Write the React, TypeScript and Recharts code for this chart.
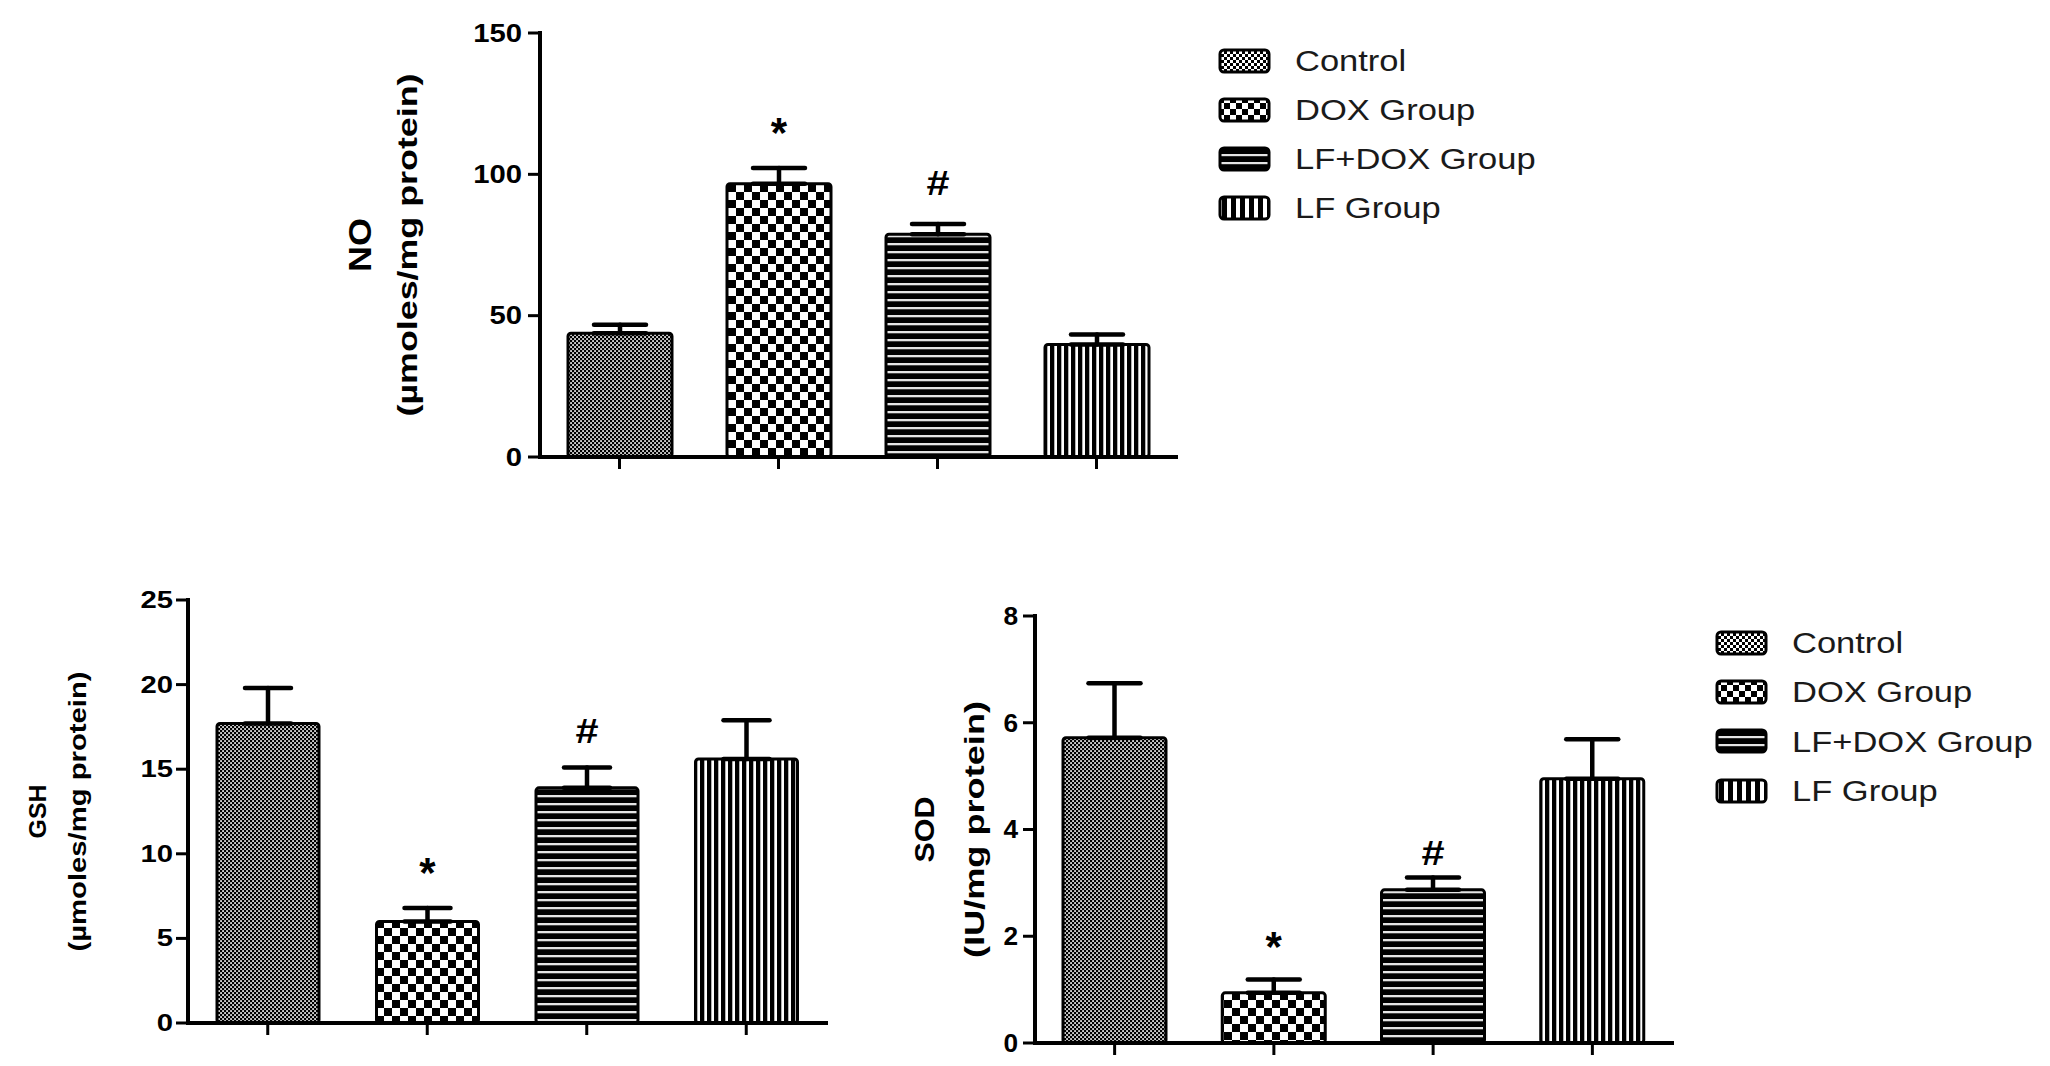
import React from 'react';
import { BarChart, Bar, XAxis, YAxis, ErrorBar, Cell, LabelList, Legend } from 'recharts';

const FONT = '"Liberation Sans", Arial, Helvetica, sans-serif';

// Treatment groups, in plotting order
const groups = ['Control', 'DOX Group', 'LF+DOX Group', 'LF Group'];
const fillKeys = ['control', 'dox', 'lfdox', 'lf'];

// Nitric oxide (µmoles/mg protein): mean and SEM
const noMean = [43.8, 96.7, 78.8, 39.8];
const noSem = [3.0, 5.5, 3.6, 3.5];
const noSig = ['', '*', '#', ''];
const noTicks = [0, 50, 100, 150];

// Reduced glutathione (µmoles/mg protein)
const gshMean = [17.7, 6.0, 13.9, 15.6];
const gshSem = [2.1, 0.8, 1.2, 2.3];
const gshSig = ['', '*', '#', ''];
const gshTicks = [0, 5, 10, 15, 20, 25];

// Superoxide dismutase (IU/mg protein)
const sodMean = [5.72, 0.94, 2.87, 4.95];
const sodSem = [1.02, 0.25, 0.23, 0.74];
const sodSig = ['', '*', '#', ''];
const sodTicks = [0, 2, 4, 6, 8];

type Row = { group: string; mean: number; sem: [number, number]; sig: string; fill: string };

// upper-only error bars: [lower, upper]
const buildRows = (mean: number[], sem: number[], sig: string[]): Row[] =>
  groups.map((g, i) => ({ group: g, mean: mean[i], sem: [0, sem[i]], sig: sig[i], fill: fillKeys[i] }));

const noRows = buildRows(noMean, noSem, noSig);
const gshRows = buildRows(gshMean, gshSem, gshSig);
const sodRows = buildRows(sodMean, sodSem, sodSig);

// Hatch fills shared by every panel and legend
const PatternLibrary = () => (
  <svg width={0} height={0} style={{ position: 'absolute' }}>
    <defs>
      <pattern id="bar-control" width={4} height={4} patternUnits="userSpaceOnUse">
        <rect width={4} height={4} fill="#000" />
        <rect x={0.2} y={0.2} width={1.7} height={1.7} fill="#fff" />
        <rect x={2.2} y={2.2} width={1.7} height={1.7} fill="#fff" />
      </pattern>
      <pattern id="bar-dox" width={16} height={16} patternUnits="userSpaceOnUse">
        <rect width={16} height={16} fill="#fff" />
        <rect x={0} y={0} width={8} height={8} fill="#000" />
        <rect x={8} y={8} width={8} height={8} fill="#000" />
      </pattern>
      <pattern id="bar-lfdox" width={8} height={8} patternUnits="userSpaceOnUse">
        <rect width={8} height={8} fill="#000" />
        <rect x={0} y={3} width={8} height={2.3} fill="#e4e4e4" />
      </pattern>
      <pattern id="bar-lf" width={7} height={7} patternUnits="userSpaceOnUse">
        <rect width={7} height={7} fill="#fff" />
        <rect x={0} y={0} width={4.3} height={7} fill="#000" />
      </pattern>

      <pattern id="key-control" width={6} height={6} patternUnits="userSpaceOnUse">
        <rect width={6} height={6} fill="#000" />
        <rect x={0} y={0} width={3} height={3} fill="#fff" />
        <rect x={3} y={3} width={3} height={3} fill="#fff" />
      </pattern>
      <pattern id="key-dox" width={12} height={12} patternUnits="userSpaceOnUse">
        <rect width={12} height={12} fill="#fff" />
        <rect x={0} y={0} width={6} height={6} fill="#000" />
        <rect x={6} y={6} width={6} height={6} fill="#000" />
      </pattern>
      <pattern id="key-lfdox" width={8} height={8} patternUnits="userSpaceOnUse">
        <rect width={8} height={8} fill="#000" />
        <rect x={0} y={0} width={8} height={2.2} fill="#e4e4e4" />
      </pattern>
      <pattern id="key-lf" width={9} height={9} patternUnits="userSpaceOnUse">
        <rect width={9} height={9} fill="#fff" />
        <rect x={4} y={0} width={5} height={9} fill="#000" />
      </pattern>
    </defs>
  </svg>
);

const YTick = (props: any) => {
  const { x, y, payload, size, stretch } = props;
  return (
    <text
      x={0}
      y={0}
      transform={`translate(${x},${y}) scale(${stretch},1)`}
      textAnchor="end"
      dominantBaseline="central"
      fontSize={size}
      fontWeight="bold"
      fontFamily={FONT}
      fill="#000"
    >
      {payload.value}
    </text>
  );
};

const YTitle = (props: any) => {
  const { viewBox, lines, sizes, offsets, lengths } = props;
  const vb = viewBox || {};
  const axisX = (vb.x ?? 0) + (vb.width ?? 0);
  const cy = (vb.y ?? 0) + (vb.height ?? 0) / 2;
  return (
    <g>
      {lines.map((t: string, i: number) => (
        <text
          key={t}
          x={0}
          y={0}
          transform={`translate(${axisX - offsets[i]},${cy}) rotate(-90)`}
          textAnchor="middle"
          dominantBaseline="central"
          fontSize={sizes[i]}
          fontWeight="bold"
          fontFamily={FONT}
          fill="#000"
          textLength={lengths[i]}
          lengthAdjust="spacingAndGlyphs"
        >
          {t}
        </text>
      ))}
    </g>
  );
};

const KeyBlock = ({ rowH }: { rowH: number }) => (
  <div style={{ fontFamily: FONT, color: '#1a1a1a' }}>
    {groups.map((g, i) => (
      <div key={g} style={{ display: 'flex', alignItems: 'center', height: rowH }}>
        <svg width={53} height={27} style={{ display: 'block' }}>
          <rect x={2} y={2} width={49} height={22} rx={4} fill={`url(#key-${fillKeys[i]})`} stroke="#000" strokeWidth={3} />
        </svg>
        <span
          style={{
            marginLeft: 24,
            fontSize: 30,
            lineHeight: 1,
            display: 'inline-block',
            whiteSpace: 'nowrap',
            transform: 'scaleX(1.15)',
            transformOrigin: 'left center',
          }}
        >
          {g}
        </span>
      </div>
    ))}
  </div>
);

type PanelProps = {
  rows: Row[];
  ticks: number[];
  box: { left: number; top: number; width: number; height: number };
  margin: { top: number; right: number; bottom: number; left: number };
  axisWidth: number;
  barSize: number;
  capHalf: number;
  tickFont: number;
  tickStretch: number;
  tickMargin: number;
  title: string[];
  titleSizes: number[];
  titleOffsets: number[];
  titleLengths: number[];
  sigGap: Record<string, number>;
  keyAt?: { left: number; top: number; rowH: number };
};

const Panel = (p: PanelProps) => {
  const drawSig = (props: any) => {
    const vb = props.viewBox || props;
    const value = props.value;
    if (!value) return null;
    const row = p.rows.find((r) => r.sig === value);
    if (!row) return null;
    const x = Number(vb.x ?? props.x);
    const y = Number(vb.y ?? props.y);
    const w = Number(vb.width ?? props.width);
    const h = Number(vb.height ?? props.height);
    const perUnit = h / row.mean;
    const capY = y - row.sem[1] * perUnit;
    const cy = capY - p.sigGap[value];
    const cx = x + w / 2;
    if (value === '*') {
      const fs = 42;
      return (
        <text x={cx} y={cy + 0.58 * fs} textAnchor="middle" fontSize={fs} fontWeight="bold" fontFamily={FONT} fill="#000">
          *
        </text>
      );
    }
    const fs = 36;
    return (
      <text
        x={0}
        y={0}
        transform={`translate(${cx},${cy + 0.355 * fs}) scale(1.15,1)`}
        textAnchor="middle"
        fontSize={fs}
        fontWeight="bold"
        fontFamily={FONT}
        fill="#000"
      >
        #
      </text>
    );
  };

  return (
    <div style={{ position: 'absolute', left: p.box.left, top: p.box.top }}>
      <BarChart width={p.box.width} height={p.box.height} data={p.rows} margin={p.margin}>
        <XAxis
          dataKey="group"
          type="category"
          height={16}
          axisLine={{ stroke: '#000', strokeWidth: 4, strokeLinecap: 'square' }}
          tickLine={{ stroke: '#000', strokeWidth: 3 }}
          tickSize={12}
          tick={() => <g />}
          interval={0}
        />
        <YAxis
          type="number"
          width={p.axisWidth}
          domain={[p.ticks[0], p.ticks[p.ticks.length - 1]]}
          ticks={p.ticks}
          allowDataOverflow
          interval={0}
          axisLine={{ stroke: '#000', strokeWidth: 4, strokeLinecap: 'square' }}
          tickLine={{ stroke: '#000', strokeWidth: 3 }}
          tickSize={12}
          tickMargin={p.tickMargin}
          tick={<YTick size={p.tickFont} stretch={p.tickStretch} />}
          label={
            <YTitle lines={p.title} sizes={p.titleSizes} offsets={p.titleOffsets} lengths={p.titleLengths} />
          }
        />
        <Bar dataKey="mean" barSize={p.barSize} stroke="#000" strokeWidth={3} radius={3} isAnimationActive={false}>
          {p.rows.map((r) => (
            <Cell key={r.group} fill={`url(#bar-${r.fill})`} />
          ))}
          <ErrorBar
            dataKey="sem"
            direction="y"
            width={p.capHalf}
            stroke="#000"
            strokeWidth={4.5}
            strokeLinecap="round"
            isAnimationActive={false}
          />
          <LabelList dataKey="sig" content={drawSig} />
        </Bar>
        {p.keyAt && (
          <Legend
            layout="vertical"
            align="center"
            verticalAlign="middle"
            content={() => <KeyBlock rowH={p.keyAt!.rowH} />}
            wrapperStyle={{ left: p.keyAt.left, top: p.keyAt.top, width: 420, height: 200 }}
          />
        )}
      </BarChart>
    </div>
  );
};

export default function App() {
  return (
    <div
      style={{
        position: 'absolute',
        left: 0,
        top: 0,
        width: 2050,
        height: 1066,
        background: '#fff',
        overflow: 'hidden',
        fontFamily: FONT,
      }}
    >
      <PatternLibrary />

      {/* NO panel */}
      <Panel
        rows={noRows}
        ticks={noTicks}
        box={{ left: 0, top: 0, width: 1600, height: 520 }}
        margin={{ top: 33, right: 424, bottom: 47, left: 0 }}
        axisWidth={540}
        barSize={104}
        capHalf={26}
        tickFont={25}
        tickStretch={1.17}
        tickMargin={6}
        title={['NO', '(µmoles/mg protein)']}
        titleSizes={[31, 28]}
        titleOffsets={[180, 133]}
        titleLengths={[54, 343]}
        sigGap={{ '*': 45, '#': 42 }}
        keyAt={{ left: 1218, top: 36.5, rowH: 49 }}
      />

      {/* GSH panel */}
      <Panel
        rows={gshRows}
        ticks={gshTicks}
        box={{ left: 0, top: 560, width: 900, height: 506 }}
        margin={{ top: 40, right: 74, bottom: 27, left: 0 }}
        axisWidth={188}
        barSize={102}
        capHalf={23}
        tickFont={24}
        tickStretch={1.22}
        tickMargin={3}
        title={['GSH', '(µmoles/mg protein)']}
        titleSizes={[24, 24]}
        titleOffsets={[151, 111]}
        titleLengths={[54, 280]}
        sigGap={{ '*': 45, '#': 37 }}
      />

      {/* SOD panel */}
      <Panel
        rows={sodRows}
        ticks={sodTicks}
        box={{ left: 880, top: 560, width: 1170, height: 506 }}
        margin={{ top: 56, right: 378, bottom: 7, left: 0 }}
        axisWidth={155}
        barSize={103}
        capHalf={26}
        tickFont={25}
        tickStretch={1.05}
        tickMargin={5}
        title={['SOD', '(IU/mg protein)']}
        titleSizes={[28, 28]}
        titleOffsets={[111, 61]}
        titleLengths={[66, 257]}
        sigGap={{ '*': 43, '#': 25 }}
        keyAt={{ left: 835, top: 58.5, rowH: 49.3 }}
      />
    </div>
  );
}
